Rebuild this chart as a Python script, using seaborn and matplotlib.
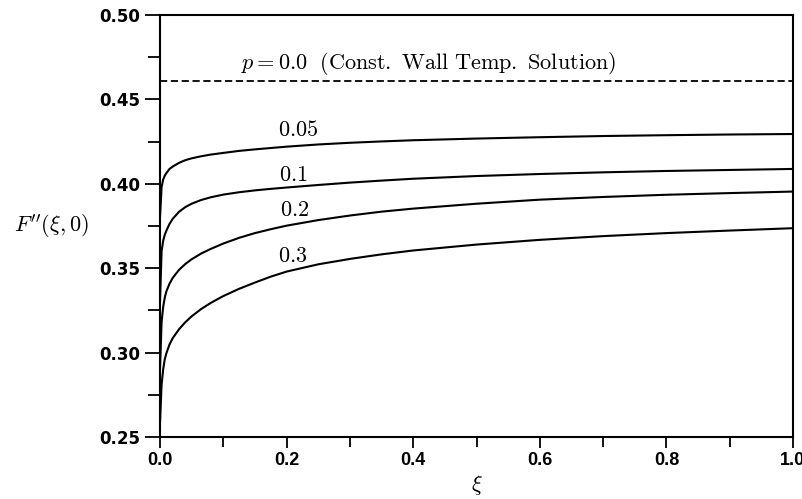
import numpy as np
import pandas as pd
import matplotlib
matplotlib.use("Agg")
import matplotlib.pyplot as plt
import seaborn as sns

# ---- data ----
xi = [0.0, 0.0025, 0.005, 0.0075, 0.01, 0.015, 0.02, 0.03, 0.04, 0.05, 0.065,
      0.08, 0.1, 0.125, 0.15, 0.175, 0.2, 0.25, 0.3, 0.35, 0.4, 0.5, 0.6,
      0.7, 0.8, 0.9, 1.0]
f_p005 = [0.380, 0.398, 0.4025, 0.4048, 0.4063, 0.4088, 0.4102, 0.4124, 0.4140,
          0.4151, 0.4163, 0.4173, 0.4183, 0.4195, 0.4204, 0.4212, 0.4220, 0.4233,
          0.4243, 0.4251, 0.4258, 0.4268, 0.4276, 0.4283, 0.4288, 0.4292, 0.4295]
f_p01 = [0.330, 0.360, 0.3662, 0.3698, 0.3722, 0.3762, 0.3792, 0.3834, 0.3862,
         0.3882, 0.3904, 0.3920, 0.3936, 0.3950, 0.3961, 0.3970, 0.3978, 0.3993,
         0.4007, 0.4019, 0.4030, 0.4046, 0.4058, 0.4068, 0.4076, 0.4082, 0.4088]
f_p02 = [0.290, 0.318, 0.327, 0.3325, 0.3362, 0.3408, 0.3442, 0.3490, 0.3525,
         0.3553, 0.3587, 0.3614, 0.3646, 0.3680, 0.3708, 0.3731, 0.3752, 0.3785,
         0.3812, 0.3835, 0.3853, 0.3882, 0.3906, 0.3922, 0.3935, 0.3945, 0.3954]
f_p03 = [0.258, 0.281, 0.290, 0.2960, 0.2995, 0.3048, 0.3085, 0.3138, 0.3180,
         0.3215, 0.3258, 0.3294, 0.3335, 0.3378, 0.3415, 0.3450, 0.3480, 0.3523,
         0.3555, 0.3582, 0.3605, 0.3640, 0.3668, 0.3690, 0.3708, 0.3723, 0.3737]
p_labels = ["0.05", "0.1", "0.2", "0.3"]
const_wall = 0.461
const_label = r"$p = 0.0\ \ \mathrm{(Const.\ Wall\ Temp.\ Solution)}$"
xticks = [0.0, 0.2, 0.4, 0.6, 0.8, 1.0]
yticks = [0.25, 0.30, 0.35, 0.40, 0.45, 0.50]

series = [f_p005, f_p01, f_p02, f_p03]
df = pd.concat([pd.DataFrame({"xi": xi, "F": s, "p": lab})
                for s, lab in zip(series, p_labels)], ignore_index=True)

sns.set_theme(style="white")
plt.rcParams["mathtext.fontset"] = "cm"
plt.rcParams["text.color"] = "black"
plt.rcParams["axes.labelcolor"] = "black"
plt.rcParams["xtick.color"] = "black"
plt.rcParams["ytick.color"] = "black"

fig = plt.figure(figsize=(8.03, 4.99), dpi=100)
ax = fig.add_axes([160/803, 1-437/499, (793-160)/803, (437-15)/499])

for lab in p_labels:
    sns.lineplot(data=df[df["p"] == lab], x="xi", y="F", color="black",
                 linewidth=1.5, ax=ax, legend=False)
sns.lineplot(x=[0.0, 1.0], y=[const_wall, const_wall], color="black",
             linewidth=1.3, ax=ax, legend=False)
ax.lines[-1].set_dashes((4, 2))

ax.set_xlim(0, 1)
ax.set_ylim(0.25, 0.50)
ax.set_xticks(xticks)
ax.set_yticks(yticks)
ax.set_xticks(np.arange(0.1, 1.0, 0.2), minor=True)
ax.set_yticks(np.arange(0.275, 0.5, 0.05), minor=True)
ax.set_xticklabels([f"{v:.1f}" for v in xticks], fontfamily="Liberation Sans",
                   fontweight="bold", fontsize=13, color="black")
ax.set_yticklabels([f"{v:.2f}" for v in yticks], fontfamily="DejaVu Sans",
                   fontweight="bold", fontsize=12, color="black")
ax.tick_params(axis="y", which="major", direction="out", length=11, width=1.3,
               color="black", pad=3, left=True)
ax.tick_params(axis="y", which="minor", direction="out", length=9, width=1.3,
               color="black", left=True)
ax.tick_params(axis="x", which="major", direction="out", length=8, width=1.3,
               color="black", pad=3, bottom=True)
ax.tick_params(axis="x", which="minor", direction="out", length=7, width=1.3,
               color="black", bottom=True)
for sp in ax.spines.values():
    sp.set_color("black")
    sp.set_linewidth(1.5)

ax.set_xlabel(r"$\xi$", fontsize=16, labelpad=3, color="black")
ax.set_ylabel(r"$F''(\xi,0)$", fontsize=16, rotation=0, color="black",
              ha="center", va="center")
ax.yaxis.set_label_coords(-0.171, 0.50)

label_pos = [(0.219, 0.4319), (0.210, 0.4054), (0.212, 0.3845), (0.210, 0.3575)]
for lab, (lx, ly) in zip(p_labels, label_pos):
    ax.text(lx, ly, f"${lab}$", fontsize=16, ha="center", va="center", color="black")
ax.text(0.424, 0.4715, const_label, fontsize=16, ha="center", va="center",
        color="black")

fig.savefig("out.png", dpi=100)
